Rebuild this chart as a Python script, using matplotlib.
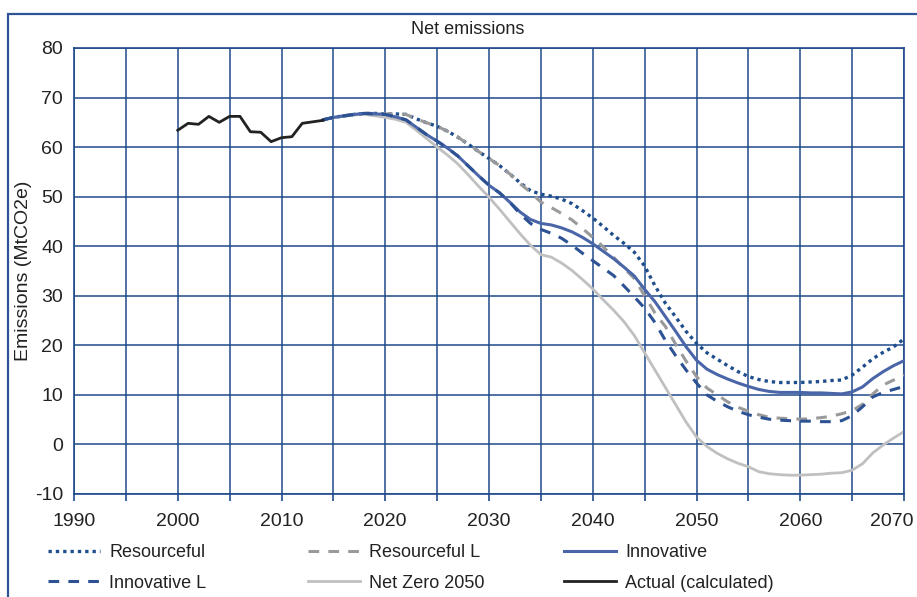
import matplotlib.pyplot as plt
import matplotlib.transforms as mtransforms
from matplotlib.patches import Rectangle

plt.rcParams['font.family'] = ['Liberation Sans', 'DejaVu Sans']
plt.rcParams['axes.unicode_minus'] = False

# Historic emissions (MtCO2e)
actual_years = list(range(2000, 2015))
actual = [63.4, 64.8, 64.6, 66.2, 65.0, 66.2, 66.2, 63.1, 63.0, 61.1,
          61.9, 62.1, 64.8, 65.1, 65.4]

# Scenario pathways, annual 2014-2070
years = list(range(2014, 2071))

resourceful = [65.5, 66.0, 66.3, 66.6, 66.8, 66.8, 66.7, 66.7, 66.6, 65.7,
               64.9, 64.2, 63.2, 62.0, 60.6, 59.1, 57.7, 56.3, 54.6, 52.8,
               51.2, 50.5, 50.1, 49.5, 48.6, 47.2, 45.7, 44.0, 42.2, 40.6,
               38.8, 36.0, 32.0, 28.5, 25.7, 22.8, 20.4, 18.5, 17.2, 15.9,
               14.7, 13.7, 13.1, 12.7, 12.5, 12.5, 12.5, 12.6, 12.7, 12.9,
               13.0, 14.0, 15.6, 17.3, 18.6, 19.7, 21.3]

resourceful_l = [65.5, 66.0, 66.3, 66.6, 66.8, 66.8, 66.7, 66.7, 66.6, 65.7,
                 64.9, 64.2, 63.2, 62.0, 60.6, 59.1, 57.7, 56.3, 54.6, 52.6,
                 50.9, 48.9, 47.8, 46.6, 45.3, 43.6, 41.8, 39.9, 37.8, 35.6,
                 33.5, 30.0, 26.5, 23.8, 20.2, 16.8, 13.7, 11.4, 10.0, 8.6,
                 7.5, 6.7, 6.0, 5.5, 5.3, 5.2, 5.1, 5.2, 5.4, 5.7,
                 6.2, 6.8, 8.1, 10.2, 12.0, 13.0, 14.0]

innovative = [65.5, 66.0, 66.3, 66.6, 66.8, 66.7, 66.6, 66.1, 65.5, 64.0,
              62.5, 61.2, 59.8, 58.2, 56.2, 54.2, 52.3, 50.8, 48.9, 46.9,
              45.4, 44.6, 44.3, 43.7, 42.9, 41.8, 40.5, 39.0, 37.5, 35.8,
              34.0, 31.3, 28.8, 25.8, 22.8, 19.7, 17.0, 15.2, 14.1, 13.2,
              12.4, 11.7, 11.1, 10.7, 10.5, 10.5, 10.5, 10.4, 10.4, 10.3,
              10.2, 10.6, 11.6, 13.3, 14.7, 15.9, 16.9]

innovative_l = [65.5, 66.0, 66.3, 66.6, 66.8, 66.7, 66.6, 66.1, 65.5, 64.0,
                62.5, 61.2, 59.8, 58.2, 56.2, 54.2, 52.3, 50.8, 48.9, 46.5,
                44.6, 43.4, 42.6, 41.6, 40.2, 38.6, 37.1, 35.6, 34.1, 32.0,
                29.8, 27.5, 24.6, 21.0, 17.9, 15.0, 12.4, 10.0, 8.7, 7.6,
                6.7, 6.0, 5.5, 5.1, 4.9, 4.8, 4.7, 4.7, 4.6, 4.6,
                4.8, 5.8, 7.6, 9.6, 10.5, 11.1, 11.7]

net_zero = [65.5, 65.9, 66.2, 66.5, 66.6, 66.3, 66.0, 65.6, 65.0, 63.4,
            61.7, 60.0, 58.4, 56.6, 54.4, 52.1, 49.9, 47.5, 45.0, 42.5,
            40.2, 38.3, 37.8, 36.6, 35.1, 33.3, 31.4, 29.2, 27.1, 24.8,
            22.0, 18.5, 15.0, 11.5, 8.0, 4.5, 1.5, -0.4, -1.8, -2.9,
            -3.8, -4.5, -5.5, -5.9, -6.1, -6.2, -6.2, -6.1, -6.0, -5.8,
            -5.7, -5.2, -3.9, -1.7, -0.1, 1.3, 2.6]

x_ticks = list(range(1990, 2071, 10))
y_ticks = list(range(-10, 81, 10))

grid_col = '#1f4a8a'
text_col = '#222222'

fig = plt.figure(figsize=(9.17, 5.97), dpi=100)
ax = fig.add_axes([74 / 917, 103 / 597, 830 / 917, 446 / 597])

# outer frame (cropped on the right and bottom in the original)
fig.patches.append(Rectangle((8 / 917, -0.1), 1.2, 1.1 - 14 / 597,
                             transform=fig.transFigure, fill=False,
                             edgecolor='#2f5496', lw=1.6, zorder=0))

l_res, = ax.plot(years, resourceful, color='#1f4e8c', lw=2.4,
                 linestyle=(0, (1, 1.2)), label='Resourceful', zorder=3)
l_resl, = ax.plot(years, resourceful_l, color='#9a9a9a', lw=2.2,
                  linestyle=(0, (3.5, 3)), label='Resourceful L', zorder=3)
l_inn, = ax.plot(years, innovative, color='#4a66a8', lw=2.2,
                 label='Innovative', zorder=4)
l_innl, = ax.plot(years, innovative_l, color='#2d5294', lw=2.2,
                  linestyle=(0, (3.5, 3)), label='Innovative L', zorder=4)
l_nz, = ax.plot(years, net_zero, color='#c0c0c0', lw=2.0,
                label='Net Zero 2050', zorder=2)
l_act, = ax.plot(actual_years, actual, color='#222222', lw=2.0,
                 label='Actual (calculated)', zorder=5)

ax.set_xlim(1990, 2070)
ax.set_ylim(-10, 80)
ax.set_xticks(x_ticks)
ax.set_xticks(list(range(1990, 2071, 5)), minor=True)
ax.set_yticks(y_ticks)
ax.grid(True, which='both', color=grid_col, lw=1.1, zorder=1)
ax.set_axisbelow(True)
for s in ax.spines.values():
    s.set_color(grid_col)
    s.set_linewidth(1.2)

ax.tick_params(axis='y', length=0, pad=8, labelsize=14, labelcolor=text_col)
ax.tick_params(axis='x', which='both', length=5, color=grid_col, width=1.2,
               direction='out', pad=9, labelsize=14, labelcolor=text_col)

# keep the last year label inside the figure
last = ax.get_xticklabels()[-1]
last.set_transform(last.get_transform() +
                   mtransforms.ScaledTranslation(-0.12, 0, fig.dpi_scale_trans))

ax.set_ylabel('Emissions (MtCO2e)', fontsize=14, color=text_col)
ax.yaxis.set_label_coords((32 - 74) / 830, 0.5)

fig.text(468 / 917, 1 - 29 / 597, 'Net emissions', ha='center', va='center',
         fontsize=13, color=text_col)

# legend in three columns, two rows each
columns = [(l_res, l_innl), (l_resl, l_nz), (l_inn, l_act)]
col_x = [48, 308, 564]
for hs, cx in zip(columns, col_x):
    leg = fig.legend(handles=list(hs), labels=[h.get_label() for h in hs],
                     loc='upper left', bbox_to_anchor=(cx / 917, 1 - 544 / 597),
                     frameon=False, fontsize=13, handlelength=2.9,
                     handletextpad=0.5, labelspacing=0.75, borderpad=0,
                     borderaxespad=0, labelcolor=text_col)

fig.savefig('out.png', dpi=100)
